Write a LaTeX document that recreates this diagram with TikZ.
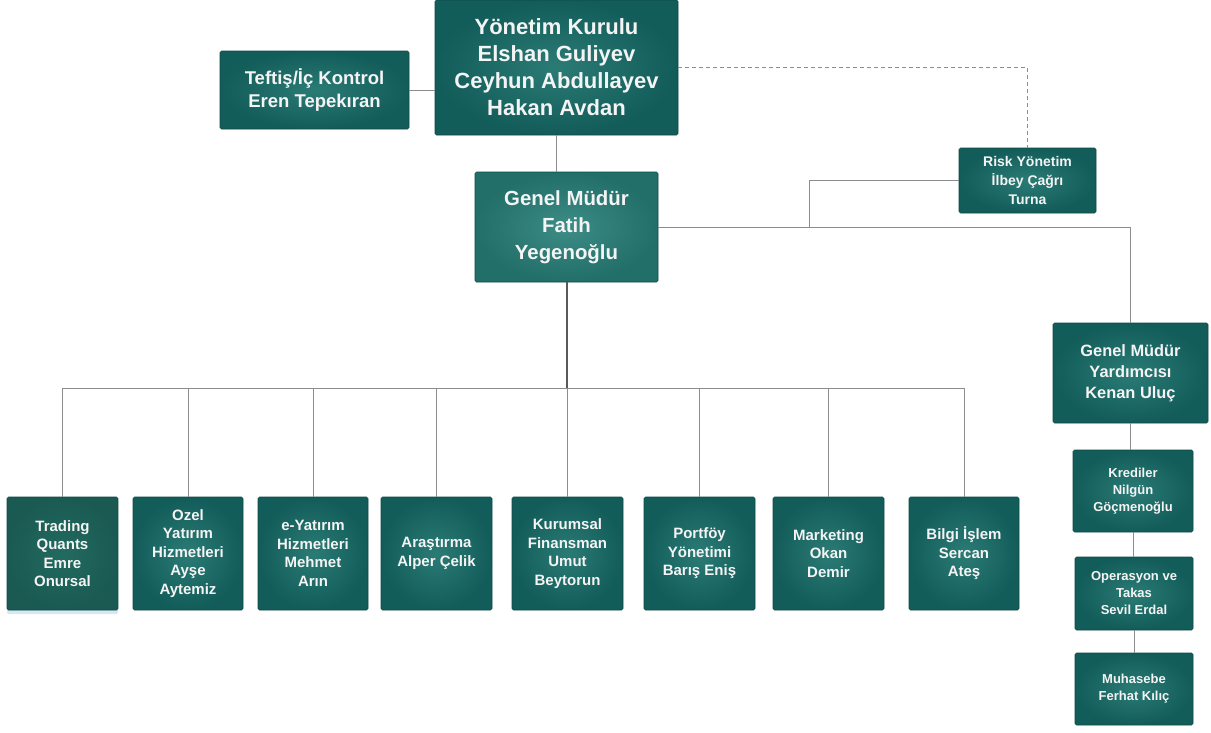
\documentclass[tikz,border=0pt]{standalone}
\usepackage{fontspec}
\setmainfont{Liberation Sans}
\usetikzlibrary{shadows}
\definecolor{tealout}{HTML}{125C59}
\definecolor{tealin}{HTML}{2B7B75}
\definecolor{gmout}{HTML}{226E69}
\definecolor{gmin}{HTML}{3D8C86}
\definecolor{trout}{HTML}{1A5A52}
\definecolor{trin}{HTML}{226A60}
\definecolor{linec}{HTML}{8C8C8C}
\definecolor{txt}{HTML}{F4F4F4}
\tikzset{
  box/.style={rounded corners=1.5pt, inner color=tealin, outer color=tealout,
    draw=tealout!80!black, line width=0.6pt, text=txt, align=center,
    font=\bfseries, inner sep=0pt},
  gmbox/.style={box, inner color=gmin, outer color=gmout},
  trbox/.style={inner color=trin, outer color=trout,
    drop shadow={shadow xshift=0pt, shadow yshift=-4pt, fill=cyan!40!teal!40, opacity=0.45}},
  conn/.style={draw=linec, line width=1pt},
  mainconn/.style={draw=black!65, line width=2pt},
  dconn/.style={draw=linec, line width=0.9pt, dash pattern=on 4pt off 3pt},
  botbox/.style={box, minimum width=110pt, minimum height=113pt,
    font=\bfseries\fontsize{15}{18.5}\selectfont},
  colbox/.style={box, font=\bfseries\fontsize{13}{17}\selectfont},
}
\begin{document}
\begin{tikzpicture}[x=1pt,y=-1pt]
\useasboundingbox (0,0) rectangle (1211,732);
\fill[white] (0,0) rectangle (1211,732);

% top level
\node[box, minimum width=243pt, minimum height=135pt,
  font=\bfseries\fontsize{22}{27}\selectfont] (yk) at (556.5,67.5)
  {Yönetim Kurulu\\Elshan Guliyev\\Ceyhun Abdullayev\\Hakan Avdan};
\node[box, minimum width=189pt, minimum height=78pt,
  font=\bfseries\fontsize{18.5}{23}\selectfont] (teftis) at (314.5,90)
  {Teftiş/İç Kontrol\\Eren Tepekıran};
\node[box, minimum width=137pt, minimum height=65pt,
  font=\bfseries\fontsize{14}{19}\selectfont] (risk) at (1027.5,180.5)
  {Risk Yönetim\\İlbey Çağrı\\Turna};
\node[gmbox, minimum width=183pt, minimum height=110pt,
  font=\bfseries\fontsize{20.4}{27}\selectfont] (genel) at (566.5,227)
  {Genel Müdür\\Fatih\\Yegenoğlu};

% right column
\node[box, minimum width=155pt, minimum height=100pt,
  font=\bfseries\fontsize{16.4}{21}\selectfont] (gmy) at (1130.5,373)
  {Genel Müdür\\Yardımcısı\\Kenan Uluç};
\node[colbox, minimum width=120pt, minimum height=82pt] (kred) at (1133,491)
  {Krediler\\Nilgün\\Göçmenoğlu};
\node[colbox, minimum width=118pt, minimum height=73pt] (oper) at (1134,593.5)
  {Operasyon ve\\Takas\\Sevil Erdal};
\node[colbox, minimum width=118pt, minimum height=72pt] (muh) at (1134,689)
  {Muhasebe\\Ferhat Kılıç};

% bottom row
\node[botbox, trbox, minimum width=111pt] (trad) at (62.5,553.5) {Trading\\Quants\\Emre\\Onursal};
\node[botbox] (ozel) at (188,553.5) {Ozel\\Yatırım\\Hizmetleri\\Ayşe\\Aytemiz};
\node[botbox] (eyat) at (313,553.5) {e-Yatırım\\Hizmetleri\\Mehmet\\Arın};
\node[botbox, minimum width=111pt] (aras) at (436.5,553.5) {Araştırma\\Alper Çelik};
\node[botbox, minimum width=111pt] (kur) at (567.5,553.5) {Kurumsal\\Finansman\\Umut\\Beytorun};
\node[botbox, minimum width=111pt] (port) at (699.5,553.5) {Portföy\\Yönetimi\\Barış Eniş};
\node[botbox, minimum width=111pt] (mark) at (828.5,553.5) {Marketing\\Okan\\Demir};
\node[botbox] (bilgi) at (964,553.5) {Bilgi İşlem\\Sercan\\Ateş};

% connectors
\coordinate (rj) at (809,227);
\coordinate (busL) at (62.5,388);
\coordinate (busR) at (964,388);
\coordinate (busM) at (566.5,388);

\draw[conn] (teftis.east) -- (teftis.east -| yk.west);
\draw[dconn] (yk.east) -| (risk.north);
\draw[conn] (yk.south) -- (yk.south |- genel.north);
\draw[conn] (genel.east) -| (gmy.north);
\draw[conn] (risk.west) -| (rj);
\draw[conn] (busL) -- (busR);
\foreach \n in {trad,ozel,eyat,aras,kur,port,mark,bilgi}
  \draw[conn] (\n.north |- busL) -- (\n.north);
\draw[mainconn] (genel.south) -- (busM);
\draw[conn] (gmy.south) -- (gmy.south |- kred.north);
\draw[conn] (kred.south) -- (kred.south |- oper.north);
\draw[conn] (oper.south) -- (oper.south |- muh.north);
\end{tikzpicture}
\end{document}
